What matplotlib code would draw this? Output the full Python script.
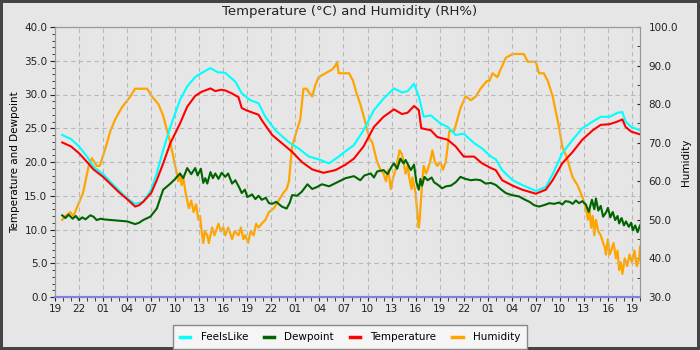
import numpy as np
import matplotlib
matplotlib.use("Agg")
import matplotlib.pyplot as plt
import matplotlib.dates as mdates
from datetime import datetime, timedelta

# -*- data (hours after 19:00 on day 1) -*-
start = datetime(2024, 7, 1, 19, 0)
span_hours = 73

temp_hours = [0.9, 2, 3, 4, 4.8, 6, 7.3, 8, 9, 10, 10.5, 11, 12, 12.7, 13.5, 14.4, 15.6, 16.5,
              17.5, 18.3, 19.4, 20, 20.7, 21.25, 22, 22.9, 23.3, 24, 25.4, 25.8, 27.1, 28.3,
              29.6, 30.8, 32.1, 33.5, 35, 36.25, 37.3, 38.5, 39.8, 41, 42.3, 43.3, 44.0, 44.8,
              45.4, 45.7, 46.9, 47.7, 49, 50, 51, 52.3, 53.3, 54.4, 55, 55.8, 57.1, 58.3, 60,
              61.25, 62.1, 63.3, 64.6, 65.8, 67.1, 68.1, 69.2, 70.2, 70.8, 71.2, 71.9, 73]
temperature = [22.9, 22.3, 21.3, 20.0, 18.9, 17.8, 16.3, 15.5, 14.5, 13.4, 13.6, 14.1, 15.4, 17.3,
               19.8, 22.8, 25.7, 28.2, 29.8, 30.4, 30.9, 30.5, 30.7, 30.6, 30.2, 29.6, 28.0, 27.6,
               27.0, 26.2, 24.0, 22.8, 21.5, 20.0, 18.9, 18.4, 18.8, 19.6, 20.5, 22.3, 25.2, 26.7,
               27.8, 27.1, 27.3, 28.3, 27.7, 25.0, 24.7, 23.7, 23.3, 22.3, 20.8, 20.8, 19.8, 19.1,
               18.8, 17.3, 16.5, 15.9, 15.3, 15.9, 17.3, 19.8, 21.5, 23.3, 24.7, 25.5, 25.6, 26.0,
               26.3, 25.2, 24.5, 24.1]

feels_hours = [0.9, 2, 3, 4, 4.8, 6, 7.3, 9, 10, 11, 12, 12.7, 13.5, 14.4, 15.6, 16.5, 17.5,
               18.3, 19.4, 20.3, 21.25, 22.5, 23.3, 24.3, 25.4, 26.25, 27.5, 29.2, 30.4, 31.7,
               32.9, 34.2, 35.4, 36.25, 37.3, 38.5, 39.8, 41, 42.3, 43.3, 44.0, 44.8, 45.4, 46,
               46.9, 48.1, 49, 50, 51, 52.3, 53.3, 54.4, 55, 55.8, 57.1, 58.3, 60, 61.25, 62.1,
               63.3, 64.6, 65.8, 67.1, 68.1, 69.2, 70.2, 70.8, 71.2, 71.9, 73]
feelslike = [24.0, 23.4, 22.3, 20.8, 19.3, 18.2, 16.6, 14.6, 13.8, 14.1, 15.9, 18.3, 21.8, 25.2,
             29.2, 31.2, 32.6, 33.2, 33.9, 33.3, 33.2, 31.9, 30.2, 29.2, 28.7, 26.7, 24.7, 22.9,
             22.0, 20.8, 20.4, 19.8, 20.8, 21.6, 22.5, 24.7, 27.7, 29.4, 30.9, 30.3, 30.5, 31.6,
             29.7, 26.7, 26.9, 25.7, 25.2, 24.0, 24.2, 22.8, 22.0, 20.8, 20.4, 18.8, 17.3, 16.6,
             15.7, 16.3, 18.2, 21.3, 23.3, 25.0, 26.0, 26.7, 26.7, 27.3, 27.4, 26.0, 25.2, 24.7]

dew_hours = [0.9, 1.3, 1.7, 2.2, 2.6, 3.0, 3.4, 3.8, 4.4, 4.8, 5.2, 5.7, 6.05, 7, 8, 9, 9.5, 10,
             10.5, 11, 11.9, 12.7, 13.5, 14.4, 15.0, 15.6, 16.0, 16.5, 17.0, 17.5, 17.8, 18.2,
             18.5, 18.75, 19.0, 19.4, 19.7, 20, 20.4, 20.8, 21.25, 21.6, 22.1, 22.5, 23.0, 23.3,
             23.7, 24.0, 24.6, 25.0, 25.4, 25.8, 26.3, 26.7, 27.1, 27.6, 28.3, 28.9, 29.3, 29.6,
             30.2, 30.8, 31.5, 32.1, 32.7, 33.3, 34.2, 35.4, 36.25, 37.3, 38.1, 38.6, 39.4, 39.8,
             40.2, 41, 41.5, 42.0, 42.3, 42.7, 43.1, 43.5, 43.75, 44.1, 44.4, 44.8, 45.1, 45.4,
             45.6, 45.8, 46.1, 46.5, 47.0, 47.3, 47.8, 48.3, 48.8, 49.4, 50.0, 50.6, 51.2, 51.9,
             52.5, 53.1, 53.75, 54.4, 55, 55.6, 56.25, 57.0, 57.9, 58.5, 59.2, 59.8, 60.4, 61,
             61.7, 62.3, 62.9, 63.3, 63.7, 64.2, 64.6, 65.0, 65.4, 65.8, 66.25, 66.6, 67.0, 67.3,
             67.5, 67.8, 68.1, 68.4, 68.75, 69.0, 69.3, 69.6, 69.9, 70.2, 70.4, 70.7, 71.0,
             71.25, 71.6, 71.9, 72.1, 72.4, 72.7, 73]
dewpoint = [12.1, 11.7, 12.2, 11.6, 12.0, 11.4, 11.8, 11.5, 12.1, 11.9, 11.4, 11.6, 11.5, 11.4,
            11.3, 11.2, 11.0, 10.8, 11.0, 11.4, 11.9, 13.1, 15.9, 16.8, 17.5, 18.3, 17.6, 19.1,
            18.2, 19.1, 18.0, 19.0, 16.9, 17.6, 16.8, 18.5, 17.6, 18.3, 17.5, 18.4, 17.8, 18.3,
            16.8, 17.3, 16.2, 15.4, 15.9, 14.8, 15.2, 14.5, 15.0, 14.4, 14.7, 13.9, 13.8, 14.1,
            13.4, 13.1, 14.0, 15.1, 15.0, 15.6, 16.7, 16.0, 16.3, 16.7, 16.4, 17.1, 17.6, 17.9,
            17.3, 18.0, 18.3, 17.7, 18.6, 18.8, 18.2, 19.3, 19.8, 19.0, 20.5, 19.8, 20.3, 19.5,
            18.8, 19.6, 17.0, 15.9, 17.5, 16.5, 17.8, 17.3, 17.7, 17.0, 16.6, 16.1, 16.4, 16.5,
            17.0, 17.8, 17.5, 17.3, 17.4, 17.3, 16.8, 16.9, 16.6, 16.0, 15.4, 15.1, 14.9, 14.5,
            14.1, 13.6, 13.4, 13.6, 13.9, 13.8, 14.0, 13.7, 14.2, 14.1, 13.8, 14.3, 13.9, 14.2,
            13.7, 12.6, 14.4, 13.0, 14.6, 12.8, 13.5, 11.9, 12.5, 13.2, 11.8, 12.6, 11.4, 12.0,
            10.9, 11.7, 10.6, 11.2, 10.4, 11.0, 9.9, 10.6, 9.6, 10.6]

hum_hours = [0.9, 1.3, 1.9, 2.3, 2.7, 3.1, 3.5, 3.8, 4.2, 4.6, 4.9, 5.2, 5.6, 6.05, 6.5, 6.9, 7.5,
             8.3, 9.4, 10, 11.5, 12.1, 12.9, 13.5, 14, 14.4, 14.8, 15.1, 15.4, 15.6, 15.8, 16.0,
             16.3, 16.7, 17.0, 17.3, 17.6, 17.9, 18.1, 18.3, 18.5, 18.7, 19.0, 19.2, 19.6, 19.9,
             20.4, 20.7, 21.0, 21.25, 21.6, 22.1, 22.4, 22.9, 23.2, 23.5, 23.75, 24.1, 24.4, 24.8,
             25.1, 25.4, 25.8, 26.25, 26.7, 27.3, 27.9, 28.5, 28.9, 29.2, 29.4, 29.6, 30.0, 30.3,
             30.6, 30.8, 31.0, 31.4, 31.7, 32.1, 32.5, 32.9, 33.75, 34.6, 35.0, 35.2, 35.4, 36.7,
             37.2, 37.6, 38.1, 38.5, 39.0, 39.3, 39.6, 40.2, 40.6, 41, 41.3, 41.6, 41.9, 42.2,
             42.5, 42.7, 43.0, 43.3, 43.5, 43.75, 44.0, 44.2, 44.5, 44.6, 45, 45.2, 45.4, 45.5,
             45.6, 45.8, 46.0, 46.3, 46.5, 46.8, 47.1, 47.4, 47.7, 48.1, 48.4, 48.75, 49.0, 49.2,
             49.8, 50.2, 50.6, 51.25, 51.9, 52.5, 53.1, 53.9, 54.2, 54.6, 55.2, 55.6, 56.25, 57.1,
             58.5, 59, 60, 60.4, 61, 61.5, 62.1, 62.5, 62.9, 63.3, 63.9, 64.3, 64.6, 65.2, 65.8,
             66.25, 66.5, 66.7, 66.9, 67.1, 67.3, 67.5, 67.8, 68.1, 68.4, 68.6, 68.75, 69.0, 69.2,
             69.4, 69.7, 70.0, 70.2, 70.4, 70.6, 70.8, 71.1, 71.4, 71.7, 72.0, 72.3, 72.6, 72.9, 73]
humidity = [50, 51, 52, 51, 53, 55, 57, 60, 64, 66, 65, 64, 64, 67, 70, 73, 76, 79, 82, 84, 84, 82,
            80, 77, 73, 70, 66, 63, 60, 62, 59, 61, 57, 53, 55, 52, 54, 50, 51, 47, 44, 47, 46, 44,
            48, 46, 49, 47, 48, 46, 48, 45, 47, 46, 48, 45, 46, 44, 47, 46, 49, 48, 49, 50, 52, 53,
            55, 57, 58, 60, 65, 69, 72, 74, 76, 80, 84, 84, 83, 82, 85, 87, 88, 89, 90, 91, 88, 88,
            86, 83, 80, 77, 73, 71, 70, 65, 63, 62, 60, 63, 58, 61, 63, 65, 68, 67, 65, 62, 64, 61,
            58, 61, 57, 52, 48, 50, 53, 59, 64, 62, 63, 65, 68, 65, 64, 65, 63, 65, 69, 73, 73, 76,
            79, 82, 81, 82, 84, 86, 86, 88, 87, 89, 92, 93, 93, 91, 91, 88, 88, 86, 82, 78, 74, 69,
            66, 63, 61, 59, 56, 53, 50, 53, 48, 51, 46, 50, 47, 46, 44, 43, 41, 45, 41, 42, 44, 40,
            42, 37, 39, 36, 40, 38, 41, 39, 42, 38, 40, 43]

labels = ["FeelsLike", "Dewpoint", "Temperature", "Humidity"]
colors = ["#00ffff", "#006400", "#ff0000", "#ffa500"]


def to_time(hours):
    return [start + timedelta(hours=h) for h in hours]


bg = "#e6e6e6"
plt.rcParams['font.family'] = ['DejaVu Sans']
fig = plt.figure(figsize=(7, 3.5), dpi=100, facecolor=bg, edgecolor="#444444", linewidth=4)
ax = fig.add_axes([55 / 700, 1 - 297 / 350, 585 / 700, 270 / 350])
ax2 = ax.twinx()
ax.set_zorder(ax2.get_zorder() + 1)
ax.patch.set_visible(False)
ax2.set_facecolor(bg)

l1, = ax.plot(to_time(feels_hours), feelslike, color=colors[0], lw=1.5)
l2, = ax.plot(to_time(dew_hours), dewpoint, color=colors[1], lw=1.5)
l3, = ax.plot(to_time(temp_hours), temperature, color=colors[2], lw=1.5)
l4, = ax2.plot(to_time(hum_hours), humidity, color=colors[3], lw=1.6)

ax.set_xlim(start, start + timedelta(hours=span_hours))
ax.set_ylim(0, 40)
ax2.set_ylim(30, 100)

ax.xaxis.set_major_locator(mdates.HourLocator(byhour=[1, 4, 7, 10, 13, 16, 19, 22]))
ax.xaxis.set_minor_locator(mdates.HourLocator())
ax.xaxis.set_major_formatter(mdates.DateFormatter("%H"))
ax.yaxis.set_major_locator(plt.MultipleLocator(5))
ax.yaxis.set_minor_locator(plt.MultipleLocator(1))
ax.yaxis.set_major_formatter(plt.FormatStrFormatter("%.1f"))
ax2.yaxis.set_major_locator(plt.MultipleLocator(10))
ax2.yaxis.set_minor_locator(plt.MultipleLocator(5))
ax2.yaxis.set_major_formatter(plt.FormatStrFormatter("%.1f"))

ax.grid(True, which="major", color="#b8b8b8", linestyle=(0, (4, 3)), linewidth=0.8)
ax.tick_params(axis="both", which="both", labelsize=7.5, color="#222222", labelcolor="#222222")
ax.tick_params(axis="y", which="major", length=3.5, pad=2)
ax.tick_params(axis="y", which="minor", length=2)
ax.tick_params(axis="x", which="both", length=3, pad=2)
ax2.tick_params(axis="y", which="both", direction="in", length=2.5, labelsize=7.5,
                color="#222222", labelcolor="#222222", pad=6)

for a in (ax, ax2):
    for side in ("left", "right", "top"):
        a.spines[side].set_color("#999999")
    a.spines["bottom"].set_color("#8080e0")
    a.spines["bottom"].set_linewidth(1.5)

ax.set_ylabel("Temperature and Dewpoint", fontsize=7.5, labelpad=3)
ax2.set_ylabel("Humidity", fontsize=7.5, labelpad=2)
fig.text(0.5, 1 - 12 / 350, "Temperature (\u00b0C) and Humidity (RH%)", ha="center", va="center",
         fontsize=9.5, color="#222222")

leg = fig.legend([l1, l2, l3, l4], labels, loc="lower center", bbox_to_anchor=(0.5, -0.012),
                 ncol=4, fontsize=7.5, frameon=True, fancybox=False, framealpha=1,
                 facecolor="#f5f5f5", edgecolor="#888888", handlelength=1.0, handletextpad=1.0,
                 columnspacing=1.5, borderpad=0.65)
for h in leg.legend_handles:
    h.set_linewidth(2.5)

fig.savefig("out.png", dpi=100, facecolor=bg, edgecolor="#444444")
